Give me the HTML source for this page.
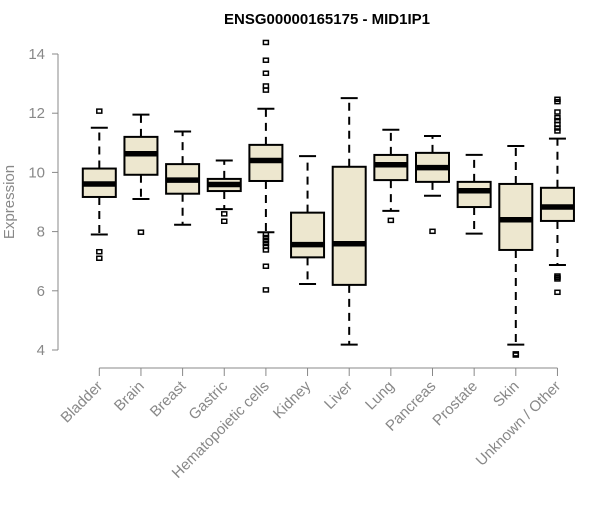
<!DOCTYPE html>
<html><head><meta charset="utf-8"><style>
body{margin:0;background:#fff;}
svg{font-family:"Liberation Sans",Arial,sans-serif;}
</style></head><body>
<svg id="chart" width="600" height="500">
<text x="327" y="24" text-anchor="middle" font-weight="bold" font-size="15" fill="#000">ENSG00000165175 - MID1IP1</text>
<text transform="translate(14,202) rotate(-90)" text-anchor="middle" font-size="15" fill="#888">Expression</text>
<g id="yaxis"></g>
<g id="xaxis"></g>
<g id="boxes"></g>
</svg>
<script>
const categories=["Bladder","Brain","Breast","Gastric","Hematopoietic cells","Kidney","Liver","Lung","Pancreas","Prostate","Skin","Unknown / Other"];
const whiskerLow=[7.9,9.1,8.23,8.76,7.98,6.23,4.18,8.7,9.21,7.93,4.18,6.87];
const q1=[9.17,9.92,9.28,9.37,9.71,7.13,6.2,9.74,9.68,8.83,7.38,8.36];
const medians=[9.61,10.63,9.74,9.59,10.4,7.56,7.59,10.26,10.16,9.38,8.4,8.83];
const q3=[10.13,11.2,10.28,9.78,10.93,8.64,10.19,10.59,10.66,9.68,9.61,9.48];
const whiskerHigh=[11.51,11.95,11.38,10.4,12.15,10.55,12.51,11.44,11.23,10.59,10.89,11.14];
const outliers=[[12.07,7.32,7.1],[7.98],[],[8.6,8.35],[14.39,13.79,13.35,12.92,12.78,7.9,7.8,7.7,7.6,7.5,7.38,6.83,6.03],[],[],[8.38],[8.01],[],[3.83,3.87],[12.39,12.47,12.04,11.85,11.75,11.62,11.5,11.4,6.5,6.45,6.4,5.95]];
const yTicks=[4,6,8,10,12,14];

const NS="http://www.w3.org/2000/svg";
const y=v=>54+(14-v)*29.6;
const x=i=>99.3+i*41.65;
function mk(parent,tag,attrs){const e=document.createElementNS(NS,tag);for(const k in attrs)e.setAttribute(k,attrs[k]);parent.appendChild(e);return e;}
const ya=document.getElementById('yaxis'),xa=document.getElementById('xaxis'),bx=document.getElementById('boxes');
mk(ya,'line',{x1:58,x2:58,y1:y(14),y2:y(4),stroke:'#888','stroke-width':1});
yTicks.forEach(t=>{
 const l=mk(ya,'line',{x1:52,x2:58,y1:y(t),y2:y(t),stroke:'#888'});
 
 
 const tx=mk(ya,'text',{x:45,y:y(t)+5,'text-anchor':'end','font-size':15,fill:'#888'});
 tx.textContent=t;
 
 
});
mk(xa,'line',{x1:x(0),x2:x(categories.length-1),y1:368,y2:368,stroke:'#888'});
categories.forEach((c,i)=>{
 const l=mk(xa,'line',{x1:x(i),x2:x(i),y1:368,y2:376,stroke:'#888'});
 
 
 const tx=mk(xa,'text',{transform:`translate(${x(i)+4},${387}) rotate(-45)`,'text-anchor':'end','font-size':15,fill:'#888'});
 tx.textContent=c;
 
 
});
categories.forEach((c,i)=>{
 const cx=x(i),hw=16.5,cw=8.5;
 const g=mk(bx,'g',{});
 
 
 mk(g,'line',{x1:cx,x2:cx,y1:y(q3[i]),y2:y(whiskerHigh[i]),stroke:'#000','stroke-width':2,'stroke-dasharray':'8,6'});
 mk(g,'line',{x1:cx,x2:cx,y1:y(q1[i]),y2:y(whiskerLow[i]),stroke:'#000','stroke-width':2,'stroke-dasharray':'8,6'});
 mk(g,'line',{x1:cx-cw,x2:cx+cw,y1:y(whiskerHigh[i]),y2:y(whiskerHigh[i]),stroke:'#000','stroke-width':2});
 mk(g,'line',{x1:cx-cw,x2:cx+cw,y1:y(whiskerLow[i]),y2:y(whiskerLow[i]),stroke:'#000','stroke-width':2});
 mk(g,'rect',{x:cx-hw,y:y(q3[i]),width:2*hw,height:y(q1[i])-y(q3[i]),fill:'#ede7cf',stroke:'#000','stroke-width':2});
 mk(g,'line',{x1:cx-hw,x2:cx+hw,y1:y(medians[i]),y2:y(medians[i]),stroke:'#000','stroke-width':5.5});
 outliers[i].forEach(o=>{
  const r=mk(g,'rect',{x:cx-2.5,y:y(o)-2,width:5,height:4,fill:'none',stroke:'#000','stroke-width':1.5});
  
  
 });
});
</script>
</body></html>
